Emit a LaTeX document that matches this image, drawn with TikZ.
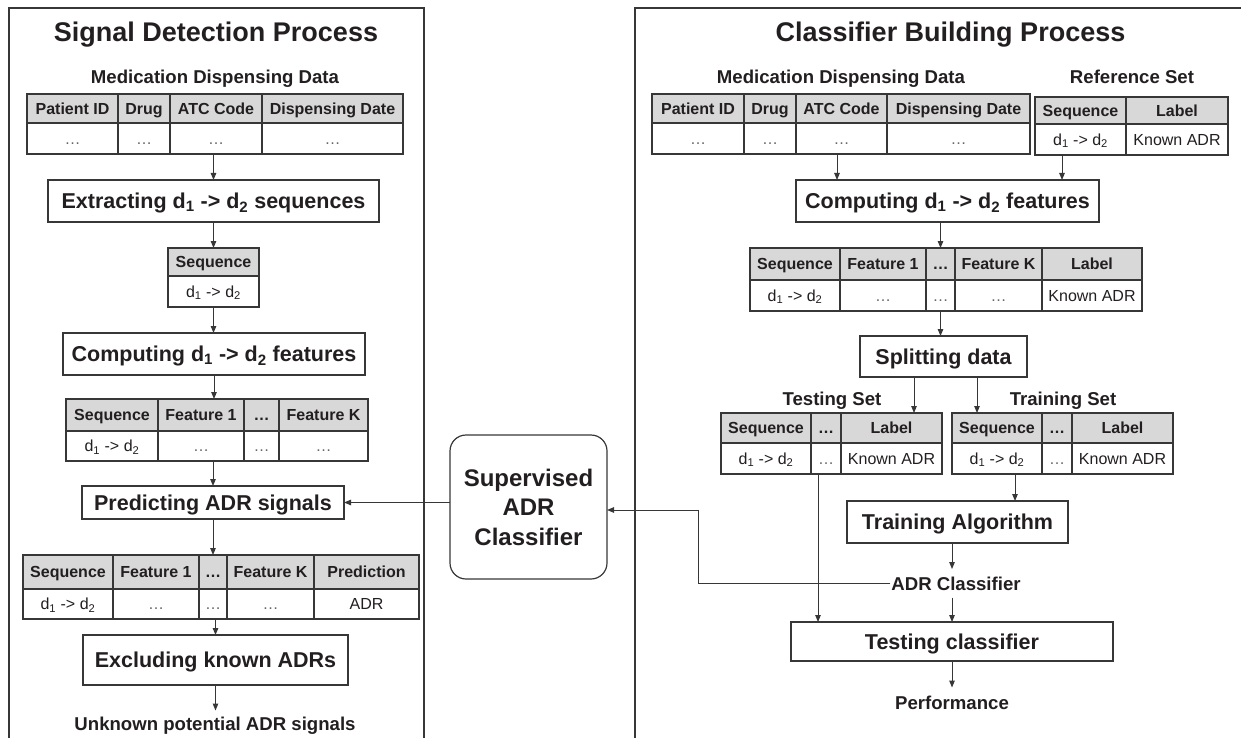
\documentclass[tikz,border=0pt]{standalone}
\usepackage{fontspec}
\setmainfont{Liberation Sans}
\usetikzlibrary{arrows.meta}
\definecolor{ink}{RGB}{35,31,32}
\definecolor{hdr}{RGB}{216,216,216}
\definecolor{ln}{RGB}{55,55,55}
\newcommand\cell[7]{\node[#6,minimum width={#3-(#2)},minimum height={#5-(#4)}] (#1) at ({(#2+#3)/2},{(#4+#5)/2}) {#7};}
\newcommand\dseq{d\textsubscript{1} -> d\textsubscript{2}}
\newcommand\gdots{\textcolor{black!60}{\textellipsis}}
\tikzset{
 base/.style={text=ink, inner sep=1pt, outer sep=0pt},
 hcell/.style={base, draw=ln, line width=1.2pt, fill=hdr, font=\bfseries\fontsize{16}{19}\selectfont, text height=11.5pt, text depth=0pt},
 dcell/.style={base, draw=ln, line width=1.2pt, fill=white, font=\fontsize{16}{19}\selectfont, text height=11.5pt, text depth=0pt},
 procbox/.style={base, draw=ln, line width=1.2pt, fill=white, font=\bfseries\fontsize{21.5}{26}\selectfont, text height=15.4pt, text depth=0pt},
 lbl/.style={base, font=\bfseries\fontsize{18.6}{22}\selectfont, anchor=base},
 ttl/.style={base, font=\bfseries\fontsize{27}{32}\selectfont, anchor=base},
 supbox/.style={base, draw=ln, line width=1.2pt, rounded corners=16pt, align=center, minimum width=157pt, minimum height=144pt, font=\bfseries\fontsize{24}{29.5}\selectfont},
 arr/.style={draw=ln, line width=1pt, -{Triangle[length=7pt,width=5.5pt]}},
 plain/.style={draw=ln, line width=1pt},
 frame/.style={draw=ln, line width=1.2pt},
}
\begin{document}
\begin{tikzpicture}[x=1pt,y=-1pt]
\useasboundingbox (0,0) rectangle (1241,738);
% panel frames
\draw[frame] (9,745) -- (9,8) -- (424,8) -- (424,745);
\draw[frame] (635,745) -- (635,8) -- (1250,8);

%%%%%%%%%%%%%%%% LEFT PANEL
\node[ttl] (ttlL) at (216,41.5) {Signal Detection Process};
\node[lbl] (mddL) at (215,83.5) {Medication Dispensing Data};
\cell{t1h1}{27}{118}{94}{123}{hcell}{Patient ID}
\cell{t1h2}{118}{170}{94}{123}{hcell}{Drug}
\cell{t1h3}{170}{262}{94}{123}{hcell}{ATC Code}
\cell{t1h4}{262}{403}{94}{123}{hcell}{Dispensing Date}
\cell{t1d1}{27}{118}{123}{154}{dcell}{\gdots}
\cell{t1d2}{118}{170}{123}{154}{dcell}{\gdots}
\cell{t1d3}{170}{262}{123}{154}{dcell}{\gdots}
\cell{t1d4}{262}{403}{123}{154}{dcell}{\gdots}

\cell{ext}{48}{379}{180}{222}{procbox}{Extracting \dseq\ sequences}

\cell{sqh}{168}{259}{248}{276}{hcell}{Sequence}
\cell{sqd}{168}{259}{276}{307}{dcell}{\dseq}

\cell{compL}{63}{365}{333}{375}{procbox}{Computing \dseq\ features}

\cell{t2h1}{66}{158}{399}{431}{hcell}{Sequence}
\cell{t2h2}{158}{244}{399}{431}{hcell}{Feature 1}
\cell{t2h3}{244}{279}{399}{431}{hcell}{\textellipsis}
\cell{t2h4}{279}{368}{399}{431}{hcell}{Feature K}
\cell{t2d1}{66}{158}{431}{461}{dcell}{\dseq}
\cell{t2d2}{158}{244}{431}{461}{dcell}{\gdots}
\cell{t2d3}{244}{279}{431}{461}{dcell}{\gdots}
\cell{t2d4}{279}{368}{431}{461}{dcell}{\gdots}

\cell{pred}{82}{344}{486}{519}{procbox}{Predicting ADR signals}

\cell{t3h1}{23}{113}{555}{589}{hcell}{Sequence}
\cell{t3h2}{113}{199}{555}{589}{hcell}{Feature 1}
\cell{t3h3}{199}{227}{555}{589}{hcell}{\textellipsis}
\cell{t3h4}{227}{314}{555}{589}{hcell}{Feature K}
\cell{t3h5}{314}{419}{555}{589}{hcell}{Prediction}
\cell{t3d1}{23}{113}{589}{619}{dcell}{\dseq}
\cell{t3d2}{113}{199}{589}{619}{dcell}{\gdots}
\cell{t3d3}{199}{227}{589}{619}{dcell}{\gdots}
\cell{t3d4}{227}{314}{589}{619}{dcell}{\gdots}
\cell{t3d5}{314}{419}{589}{619}{dcell}{ADR}

\cell{excl}{83}{348}{635}{685}{procbox}{Excluding known ADRs}
\node[lbl, inner ysep=6pt] (unk) at (215,730) {Unknown potential ADR signals};

\draw[arr] (ext.north |- t1d3.south) -- (ext.north);
\draw[arr] (ext.south) -- (ext.south |- sqh.north);
\draw[arr] (sqd.south) -- (sqd.south |- compL.north);
\draw[arr] (compL.south) -- (compL.south |- t2h2.north);
\draw[arr] (pred.north |- t2d2.south) -- (pred.north);
\draw[arr] (pred.south) -- (pred.south |- t3h3.north);
\draw[arr] (excl.north |- t3d3.south) -- (excl.north);
\draw[arr] (excl.south) -- (excl.south |- unk.north);

%%%%%%%%%%%%%%%% CENTRE
\node[supbox] (sup) at (528.5,507) {Supervised\\ADR\\Classifier};
\draw[arr] (sup.west |- pred.east) -- (pred.east);

%%%%%%%%%%%%%%%% RIGHT PANEL
\node[ttl] (ttlR) at (950.5,41.5) {Classifier Building Process};
\node[lbl] (mddR) at (841,83.5) {Medication Dispensing Data};
\node[lbl] (refl) at (1132,83.5) {Reference Set};
\cell{m2h1}{652}{744}{94}{123}{hcell}{Patient ID}
\cell{m2h2}{744}{796}{94}{123}{hcell}{Drug}
\cell{m2h3}{796}{887}{94}{123}{hcell}{ATC Code}
\cell{m2h4}{887}{1030}{94}{123}{hcell}{Dispensing Date}
\cell{m2d1}{652}{744}{123}{154}{dcell}{\gdots}
\cell{m2d2}{744}{796}{123}{154}{dcell}{\gdots}
\cell{m2d3}{796}{887}{123}{154}{dcell}{\gdots}
\cell{m2d4}{887}{1030}{123}{154}{dcell}{\gdots}

\cell{rsh1}{1035}{1126}{97}{124}{hcell}{Sequence}
\cell{rsh2}{1126}{1228}{97}{124}{hcell}{Label}
\cell{rsd1}{1035}{1126}{124}{155}{dcell}{\dseq}
\cell{rsd2}{1126}{1228}{124}{155}{dcell}{Known ADR}

\cell{compR}{796}{1099}{180}{222}{procbox}{Computing \dseq\ features}

\cell{rfh1}{750}{840}{248}{280}{hcell}{Sequence}
\cell{rfh2}{840}{926}{248}{280}{hcell}{Feature 1}
\cell{rfh3}{926}{955}{248}{280}{hcell}{\textellipsis}
\cell{rfh4}{955}{1042}{248}{280}{hcell}{Feature K}
\cell{rfh5}{1042}{1142}{248}{280}{hcell}{Label}
\cell{rfd1}{750}{840}{280}{311}{dcell}{\dseq}
\cell{rfd2}{840}{926}{280}{311}{dcell}{\gdots}
\cell{rfd3}{926}{955}{280}{311}{dcell}{\gdots}
\cell{rfd4}{955}{1042}{280}{311}{dcell}{\gdots}
\cell{rfd5}{1042}{1142}{280}{311}{dcell}{Known ADR}

\cell{split}{860}{1027}{336}{377}{procbox}{Splitting data}

\node[lbl] (tesl) at (832,405) {Testing Set};
\node[lbl] (trnl) at (1063,405) {Training Set};
\cell{teh1}{721}{811}{413}{443}{hcell}{Sequence}
\cell{teh2}{811}{841}{413}{443}{hcell}{\textellipsis}
\cell{teh3}{841}{942}{413}{443}{hcell}{Label}
\cell{ted1}{721}{811}{443}{474}{dcell}{\dseq}
\cell{ted2}{811}{841}{443}{474}{dcell}{\gdots}
\cell{ted3}{841}{942}{443}{474}{dcell}{Known ADR}
\cell{trh1}{952}{1042}{413}{443}{hcell}{Sequence}
\cell{trh2}{1042}{1072}{413}{443}{hcell}{\textellipsis}
\cell{trh3}{1072}{1173}{413}{443}{hcell}{Label}
\cell{trd1}{952}{1042}{443}{474}{dcell}{\dseq}
\cell{trd2}{1042}{1072}{443}{474}{dcell}{\gdots}
\cell{trd3}{1072}{1173}{443}{474}{dcell}{Known ADR}

\cell{talg}{847}{1068}{501}{543}{procbox}{Training Algorithm}
\node[lbl, inner ysep=7.5pt] (adrc) at (956,590) {ADR Classifier};
\cell{tcls}{791}{1113}{622}{661}{procbox}{Testing classifier}
\node[lbl, inner ysep=8pt] (perf) at (952,709) {Performance};

\draw[arr] ([xshift=-4.5pt]m2d3.south) -- ([xshift=-4.5pt]m2d3.south |- compR.north);
\draw[arr] ([xshift=-18.5pt]rsd1.south) -- ([xshift=-18.5pt]rsd1.south |- compR.north);
\draw[arr] (rfh3.north |- compR.south) -- (rfh3.north);
\draw[arr] (rfd3.south) -- (rfd3.south |- split.north);
\draw[arr] ([xshift=-29.5pt]split.south) -- ([xshift=-29.5pt]split.south |- teh3.north);
\draw[arr] ([xshift=33.5pt]split.south) -- ([xshift=33.5pt]split.south |- trh1.north);
\draw[arr] ([xshift=18pt]trd1.south) -- ([xshift=18pt]trd1.south |- talg.north);
\draw[arr] (talg.south -| tcls.north) -- (tcls.north |- adrc.north);
\draw[arr] (adrc.south -| tcls.north) -- (tcls.north);
\draw[arr] ([xshift=-8pt]ted2.south) -- ([xshift=-8pt]ted2.south |- tcls.north);
\draw[arr] (tcls.south) -- (tcls.south |- perf.north);

\coordinate (bend) at (698,510);
\draw[arr] (adrc.west) -| (bend) -- (bend -| sup.east);
\end{tikzpicture}
\end{document}
